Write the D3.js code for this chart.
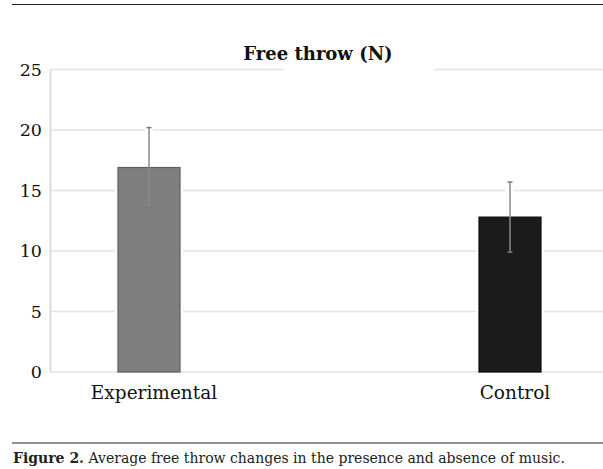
<!DOCTYPE html>
<html>
<head>
<meta charset="utf-8">
<script src="https://cdn.jsdelivr.net/npm/d3@7"></script>
<style>
  body { margin: 0; background: #fff; }
  svg { display: block; font-family: "DejaVu Serif", serif; }
</style>
</head>
<body>
<div id="chart"></div>
<script>
// data
var categories = ["Experimental", "Control"]
var means = [16.9, 12.8]
var errors = [3.3, 2.9]
var barColours = ["#7f7f7f", "#1b1b1b"]
var yTicks = [0, 5, 10, 15, 20, 25]

var width = 603, height = 469

var svg = d3.select("#chart").append("svg")
    .attr("width", width)
    .attr("height", height)

var y = d3.scaleLinear().domain([0, 25]).range([372, 69.5])
var x = d3.scalePoint().domain(categories).range([149, 510])
var barW = 62

// top and bottom rules of the figure box
svg.append("line")
    .attr("x1", 12).attr("x2", width).attr("y1", 4.5).attr("y2", 4.5)
    .style("stroke", "#222").style("stroke-width", 1.2)
svg.append("line")
    .attr("x1", 12).attr("x2", width).attr("y1", 443).attr("y2", 443)
    .style("stroke", "#222").style("stroke-width", 1.2)

// gridlines, broken where they cross a bar or an error bar, and under the title
yTicks.forEach(function(t) {
    var segs = [[50, width]]
    var cut = []
    if (t === 25) cut = [[284, 434]]
    else if (t > 0) {
        categories.forEach(function(c, i) {
            if (t < means[i]) cut.push([x(c) - barW/2 - 3, x(c) + barW/2 + 3])
            else if (t < means[i] + errors[i]) cut.push([x(c) - 4, x(c) + 4])
        })
    }
    cut.forEach(function(g) {
        segs = segs.flatMap(function(s) {
            if (g[1] <= s[0] || g[0] >= s[1]) return [s]
            var out = []
            if (g[0] > s[0]) out.push([s[0], g[0]])
            if (g[1] < s[1]) out.push([g[1], s[1]])
            return out
        })
    })
    segs.forEach(function(s) {
        svg.append("line")
            .attr("x1", s[0]).attr("x2", s[1])
            .attr("y1", y(t)).attr("y2", y(t))
            .style("stroke", "#e3e3e3").style("stroke-width", 1.5)
    })
})

// y axis
var yAxis = svg.append("g")
    .attr("transform", "translate(50,0)")
    .call(d3.axisLeft(y).tickValues(yTicks).tickSize(0).tickPadding(8))
yAxis.select(".domain").style("stroke", "#dcdcdc").style("stroke-width", 2)
yAxis.selectAll("text").style("font-size", "17.5px").style("fill", "#111")
    .style("font-family", "DejaVu Serif, serif")

// bars
svg.selectAll("rect.bar")
    .data(categories)
    .enter().append("rect")
    .attr("class", "bar")
    .attr("x", function(d) { return x(d) - barW/2 })
    .attr("width", barW)
    .attr("y", function(d, i) { return y(means[i]) })
    .attr("height", function(d, i) { return y(0) - y(means[i]) })
    .style("fill", function(d, i) { return barColours[i] })
    .style("stroke", function(d, i) { return i === 0 ? "#5e5e5e" : "#0a0a0a" })
    .style("stroke-width", 1.2)

// error bars
var err = svg.selectAll("g.err")
    .data(categories)
    .enter().append("g")
    .attr("class", "err")
err.append("line")
    .attr("x1", function(d) { return x(d) }).attr("x2", function(d) { return x(d) })
    .attr("y1", function(d, i) { return y(means[i] + errors[i]) })
    .attr("y2", function(d, i) { return y(means[i] - errors[i]) })
    .style("stroke", "#8a8a8a").style("stroke-width", 1.5)
err.selectAll("line.cap")
    .data(function(d, i) { return [[d, means[i] + errors[i]], [d, means[i] - errors[i]]] })
    .enter().append("line")
    .attr("class", "cap")
    .attr("x1", function(d) { return x(d[0]) - 2.5 }).attr("x2", function(d) { return x(d[0]) + 2.5 })
    .attr("y1", function(d) { return y(d[1]) }).attr("y2", function(d) { return y(d[1]) })
    .style("stroke", "#777").style("stroke-width", 1.5)

// category labels
svg.selectAll("text.cat")
    .data(categories)
    .enter().append("text")
    .attr("class", "cat")
    .attr("x", function(d) { return x(d) + 5 })
    .attr("y", 399)
    .attr("text-anchor", "middle")
    .style("font-size", "18.5px").style("fill", "#111")
    .text(function(d) { return d })

// title
svg.append("text")
    .attr("x", 318).attr("y", 60)
    .attr("text-anchor", "middle")
    .style("font-size", "18px").style("font-weight", "bold").style("fill", "#111")
    .text("Free throw (N)")

// caption
var cap = svg.append("text")
    .attr("x", 13).attr("y", 463)
    .style("font-size", "14px").style("fill", "#222")
cap.append("tspan").style("font-weight", "bold").text("Figure 2.")
cap.append("tspan").text(" Average free throw changes in the presence and absence of music.")
</script>
</body>
</html>
